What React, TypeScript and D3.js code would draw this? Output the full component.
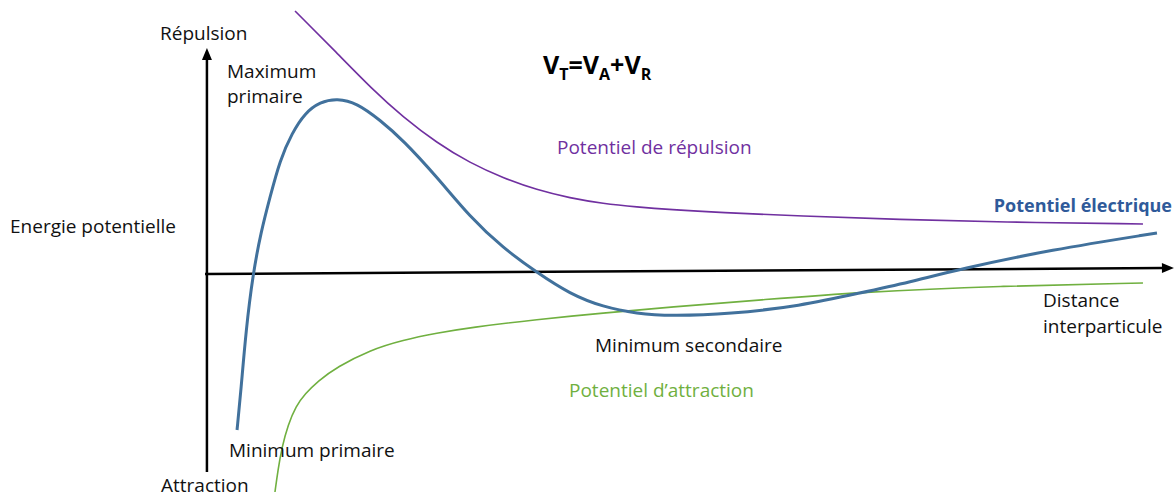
import React from "react";
import * as d3 from "d3";

type P = [number, number];

// Distance (arbitrary units) vs energy (arbitrary units)
const repulsion: P[] = [
  [0.933, 13.15], [1.337, 11.2], [1.741, 9.2], [2.052, 7.85], [2.404, 6.55],
  [2.746, 5.55], [3.088, 4.8], [3.44, 4.2], [3.782, 3.8], [4.124, 3.52],
  [4.477, 3.35], [4.819, 3.22], [5.337, 3.07], [6.166, 2.9], [7.202, 2.72],
  [8.238, 2.6], [9.72, 2.5],
];
const total: P[] = [
  [0.332, -7.8], [0.373, -5.8], [0.425, -2.8], [0.497, 0], [0.58, 2.1],
  [0.674, 3.85], [0.777, 5.7], [0.902, 7.05], [1.036, 8.05], [1.192, 8.6],
  [1.368, 8.78], [1.575, 8.55], [1.813, 7.7], [2.052, 6.7], [2.404, 4.85],
  [2.746, 2.85], [3.088, 1.3], [3.44, 0.07], [3.782, -1.0], [4.124, -1.65],
  [4.477, -1.98], [4.819, -2.1], [5.44, -2.0], [6.166, -1.6], [6.788, -0.95],
  [7.306, -0.4], [7.824, 0.25], [8.756, 1.2], [9.865, 2.05],
];
const attraction: P[] = [
  [0.725, -10.9], [0.756, -9.8], [0.798, -8.65], [0.86, -7.55], [0.943, -6.6],
  [1.036, -6.0], [1.171, -5.35], [1.368, -4.65], [1.71, -3.8], [2.052, -3.3],
  [2.404, -2.95], [2.746, -2.675], [3.44, -2.275], [4.124, -1.95], [4.819, -1.65],
  [5.751, -1.3], [6.788, -0.9], [8.238, -0.6], [9.72, -0.45],
];
const xAxisLine: P[] = [[0, 0], [10.02, 0.3]];
const yAxisLine: P[] = [[0.02, -9.9], [0.02, 11.2]];

const W = 1176;
const H = 499;
const FONT = "'Open Sans', 'Noto Sans', sans-serif";

export default function App() {
  const x = d3.scaleLinear().domain([0, 10]).range([205, 1170]);
  const y = d3.scaleLinear().domain([-10, 10]).range([474, 74]);
  const line = d3
    .line<P>()
    .x((d) => x(d[0]))
    .y((d) => y(d[1]))
    .curve(d3.curveBasis);
  const straight = d3
    .line<P>()
    .x((d) => x(d[0]))
    .y((d) => y(d[1]));

  const xEnd = xAxisLine[1];
  const yEnd = yAxisLine[1];
  const xa = x(xEnd[0]);
  const ya = y(xEnd[1]);
  const yx = x(yEnd[0]);
  const yy = y(yEnd[1]);

  return (
    <svg
      width={W}
      height={H}
      style={{ position: "absolute", left: 0, top: 0, background: "#fff" }}
      fontFamily={FONT}
    >
      <rect width={W} height={H} fill="#fff" />
      {/* axes */}
      <path d={straight([xAxisLine[0], [xEnd[0] - 0.09, xEnd[1]]]) || ""} stroke="#000" strokeWidth={2.5} fill="none" />
      <polygon
        points={`${xa + 2},${ya} ${xa - 10},${ya - 5} ${xa - 10},${ya + 5}`}
        fill="#000"
        transform={`rotate(-0.36 ${xa} ${ya})`}
      />
      <path d={straight([yAxisLine[0], [yEnd[0], yEnd[1] - 0.4]]) || ""} stroke="#000" strokeWidth={2.5} fill="none" />
      <polygon points={`${yx},${yy - 2} ${yx - 5},${yy + 10} ${yx + 5},${yy + 10}`} fill="#000" />

      {/* curves */}
      <path d={line(repulsion) || ""} stroke="#7030A0" strokeWidth={1.6} fill="none" />
      <path d={line(attraction) || ""} stroke="#70B040" strokeWidth={1.6} fill="none" />
      <path d={line(total) || ""} stroke="#41719C" strokeWidth={3} fill="none" />

      {/* labels */}
      <g fontSize={19} fill="#111">
        <text x={160} y={40}>Répulsion</text>
        <text x={227} y={78}>Maximum</text>
        <text x={227} y={103}>primaire</text>
        <text x={10} y={233}>Energie potentielle</text>
        <text x={1043} y={307}>Distance</text>
        <text x={1043} y={333}>interparticule</text>
        <text x={595} y={352}>Minimum secondaire</text>
        <text x={229} y={457}>Minimum primaire</text>
        <text x={161} y={492}>Attraction</text>
      </g>
      <text x={557} y={154} fontSize={19} fill="#7030A0">Potentiel de répulsion</text>
      <text x={569} y={397} fontSize={19} fill="#70B040">Potentiel d’attraction</text>
      <text x={1172} y={212} fontSize={18} fontWeight="bold" fill="#2F5A9A" textAnchor="end">
        Potentiel électrique
      </text>
      <text x={543} y={74} fontSize={25} fontWeight="bold" fill="#000">
        V<tspan fontSize={16} dy={6}>T</tspan>
        <tspan dy={-6}>=V</tspan>
        <tspan fontSize={16} dy={6}>A</tspan>
        <tspan dy={-6}>+V</tspan>
        <tspan fontSize={16} dy={6}>R</tspan>
      </text>
    </svg>
  );
}
